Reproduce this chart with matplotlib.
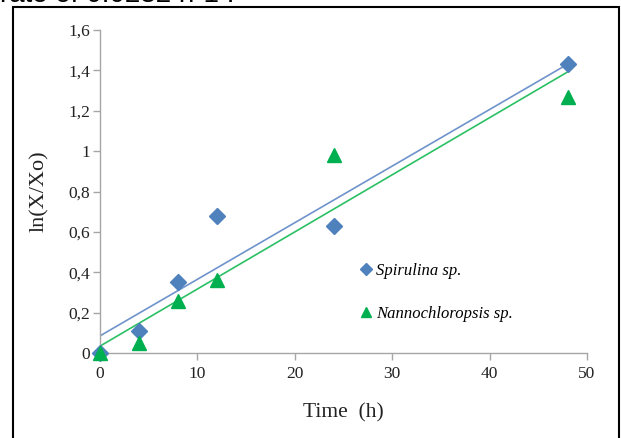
import numpy as np
import matplotlib
matplotlib.use("Agg")
import matplotlib.pyplot as plt
from matplotlib.patches import Rectangle
from matplotlib.lines import Line2D

time_h = [0, 4, 8, 12, 24, 48]
spirulina = [0.0, 0.11, 0.35, 0.68, 0.63, 1.43]
nanno = [0.0, 0.05, 0.26, 0.36, 0.98, 1.27]
xticks = [0, 10, 20, 30, 40, 50]
yticks = [0, 0.2, 0.4, 0.6, 0.8, 1.0, 1.2, 1.4, 1.6]
ytick_labels = ["0", "0,2", "0,4", "0,6", "0,8", "1", "1,2", "1,4", "1,6"]

blue = "#4F81BD"
green = "#00B050"
blue_line = "#6F93CC"
green_line = "#2BC064"
gray = "#A6A6A6"
serif = "Liberation Serif"

fig = plt.figure(figsize=(6.21, 4.38), dpi=100)
ax = fig.add_axes([100/621, 85/438, 487/621, 323/438])

t = np.array(time_h, dtype=float)
for vals, col in [(spirulina, blue_line), (nanno, green_line)]:
    k, b = np.polyfit(t, np.array(vals), 1)
    xx = np.array([0.0, 48.0])
    ax.plot(xx, k * xx + b, color=col, lw=1.2, zorder=2)

ax.plot(time_h, spirulina, linestyle="none", marker="D", ms=8.5, color=blue, zorder=3, clip_on=False)
ax.plot(time_h, nanno, linestyle="none", marker="^", ms=10, color=green, zorder=4, clip_on=False)

ax.set_xlim(0, 50)
ax.set_ylim(0, 1.6)
ax.set_xticks(xticks)
ax.set_xticklabels([str(v) for v in xticks], fontfamily=serif, fontsize=12.5)
ax.set_yticks(yticks)
ax.set_yticklabels(ytick_labels, fontfamily=serif, fontsize=12.5)
for s in ["top", "right"]:
    ax.spines[s].set_visible(False)
for s in ["left", "bottom"]:
    ax.spines[s].set_color(gray)
    ax.spines[s].set_linewidth(1.0)
ax.tick_params(axis="both", direction="out", length=5, width=1.0, color=gray, labelcolor="#222222")
ax.tick_params(axis="y", pad=2)
ax.tick_params(axis="x", pad=4)

ax.set_xlabel("Time  (h)", fontfamily=serif, fontsize=15.5, color="#222222", labelpad=16)
ax.set_ylabel("ln(X/Xo)", fontfamily=serif, fontsize=16, color="#222222", labelpad=14)

handles = [
    Line2D([], [], linestyle="none", marker="D", ms=6, color=blue),
    Line2D([], [], linestyle="none", marker="^", ms=7.5, color=green),
]
leg = ax.legend(handles, ["Spirulina sp.", "Nannochloropsis sp."],
                loc="upper left", bbox_to_anchor=(0.505, 0.325), frameon=False,
                prop={"family": serif, "style": "italic", "size": 12},
                handlelength=0.6, handletextpad=0.3, labelspacing=1.6)

fig.text(0.0, 1 - 2/438, "rate of 0.0282 h-1 .", fontfamily="Liberation Sans",
         fontsize=20, va="baseline", ha="left")
fig.patches.append(Rectangle((13/621, -0.02), (619-13)/621, 1 - 7/438 + 0.02,
                             transform=fig.transFigure, fill=False,
                             edgecolor="black", lw=1.5))

fig.savefig("out.png", dpi=100)
